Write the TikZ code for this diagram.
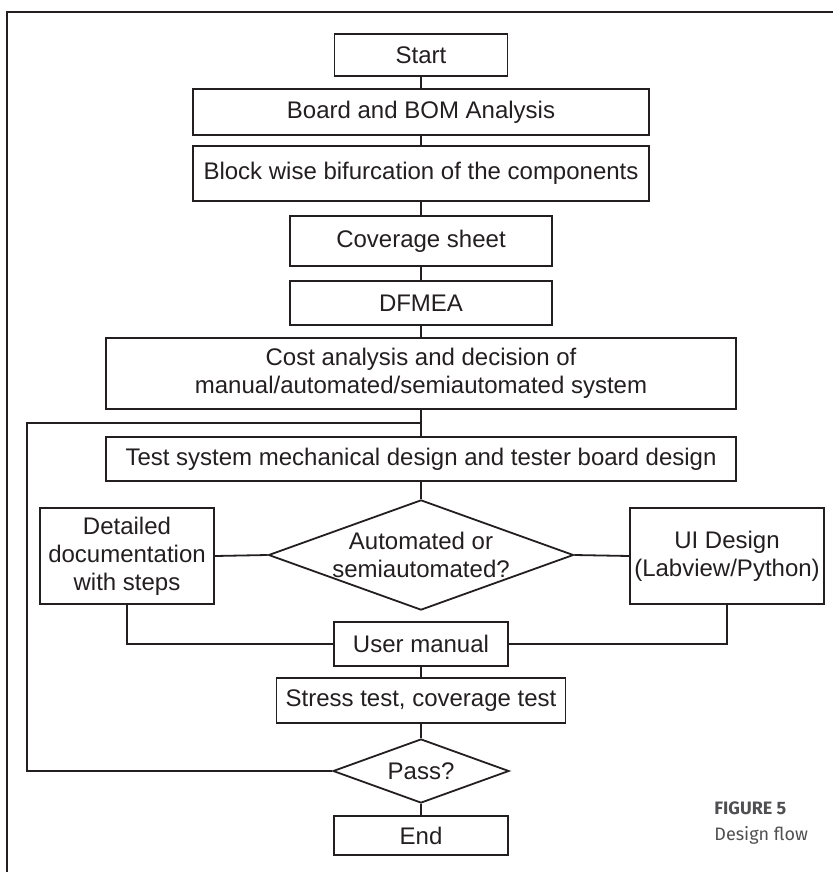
\documentclass[tikz,border=0pt]{standalone}
\usepackage{fontspec}
\setmainfont{Liberation Sans}
\newfontfamily\capfont{Fira Sans}
\usetikzlibrary{shapes.geometric}
\definecolor{inkline}{HTML}{231F20}
\definecolor{capgray}{HTML}{505052}

\tikzset{
    stepbox/.style={draw=inkline, line width=0.9pt, text=inkline, inner sep=0pt,
        align=center, font=\fontsize{12}{14}\selectfont},
    decide/.style={stepbox, diamond, shape aspect=2.75},
    link/.style={draw=inkline, line width=0.9pt},
    captext/.style={anchor=west, inner sep=0pt, text=capgray},
}

\begin{document}
\begin{tikzpicture}[x=0.5pt, y=-0.5pt]
        \useasboundingbox (0,0) rectangle (833,872);
        % frame
        \draw[link, line width=0.8pt] (833,12) -- (7,12) -- (7,872);

        \node[stepbox, minimum width=86.5pt, minimum height=21pt] (start) at (421, 55) {Start};
        \node[stepbox, minimum width=228pt, minimum height=23pt] (board) at (421, 112) {Board and BOM Analysis};
        \node[stepbox, minimum width=228pt, minimum height=27.5pt] (block) at (421, 173.5) {Block wise bifurcation of the components};
        \node[stepbox, minimum width=131pt, minimum height=25pt] (cover) at (421, 241) {Coverage sheet};
        \node[stepbox, minimum width=131pt, minimum height=22pt] (dfmea) at (421, 303) {DFMEA};
        \node[stepbox, minimum width=315pt, minimum height=35.5pt] (cost) at (421, 373.5) {Cost analysis and decision of\\manual/automated/semiautomated system};
        \node[stepbox, minimum width=315pt, minimum height=22pt] (test) at (421, 459) {Test system mechanical design and tester board design};
        \node[decide, minimum width=152.5pt, minimum height=55pt] (auto) at (421, 555) {Automated or\\semiautomated?};
        \node[stepbox, minimum width=87pt, minimum height=48pt] (docs) at (127, 556) {Detailed\\documentation\\with steps};
        \node[stepbox, minimum width=97pt, minimum height=48pt] (ui) at (727, 556) {UI Design\\(Labview/Python)};
        \node[stepbox, minimum width=87pt, minimum height=22pt] (manual) at (421, 644) {User manual};
        \node[stepbox, minimum width=144.5pt, minimum height=22.5pt] (stress) at (421, 700.5) {Stress test, coverage test};
        \node[decide, minimum width=88pt, minimum height=32pt] (pass) at (421, 771) {Pass?};
        \node[stepbox, minimum width=87pt, minimum height=19.5pt] (end) at (421, 835.5) {End};

        \draw[link] (start.south) -- (board.north);
        \draw[link] (board.south) -- (block.north);
        \draw[link] (block.south) -- (cover.north);
        \draw[link] (cover.south) -- (dfmea.north);
        \draw[link] (dfmea.south) -- (cost.north);
        \draw[link] (cost.south) -- (test.north);
        \draw[link] (test.south) -- (auto.north);
        \draw[link] (auto.west) -- (docs.east);
        \draw[link] (auto.east) -- (ui.west);
        \draw[link] (docs.south) |- (manual.west);
        \draw[link] (ui.south) |- (manual.east);
        \draw[link] (manual.south) -- (stress.north);
        \draw[link] (stress.south) -- (pass.north);
        \draw[link] (pass.south) -- (end.north);

        % retry loop
        \coordinate (back) at (421, 423);
        \coordinate (loopx) at (27, 423);
        \draw[link] (pass.west) -| (loopx) -- (back);

        \node[captext, font=\capfont\bfseries\fontsize{9}{11}\selectfont] (fignum) at (714, 808) {FIGURE 5};
        \node[captext, font=\capfont\fontsize{9}{11}\selectfont] (figtitle) at (714, 835) {Design flow};
    \end{tikzpicture}
\end{document}
